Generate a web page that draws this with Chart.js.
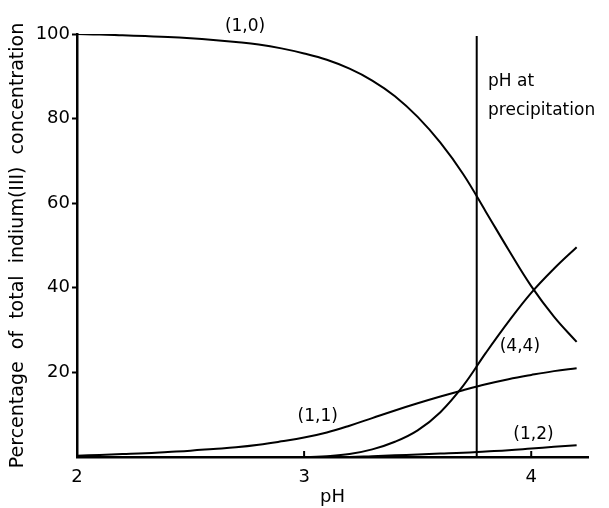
<!DOCTYPE html>
<html>
<head>
<meta charset="utf-8">
<script src="https://cdn.jsdelivr.net/npm/chart.js@4/dist/chart.umd.min.js"></script>
<style>
  html, body { margin: 0; padding: 0; background: #fff; }
  #wrap { width: 609px; height: 508px; }
</style>
</head>
<body>
<div id="wrap"><canvas id="myChart" width="609" height="508"></canvas></div>
<script>
// pH values the curves are read at
var pH = [2.0, 2.1, 2.2, 2.3, 2.4, 2.5, 2.6, 2.7, 2.8, 2.9, 3.0, 3.1,
          3.2, 3.3, 3.4, 3.5, 3.6, 3.7, 3.8, 3.9, 4.0, 4.1, 4.2];

// percentage of total indium(III) for each species
var s10 = [100, 99.9, 99.7, 99.5, 99.3, 99.0, 98.6, 98.1, 97.5, 96.6, 95.4, 93.9,
           91.8, 89.0, 85.3, 80.4, 74.3, 66.9, 58.0, 49.0, 40.4, 33.2, 27.2];
var s11 = [0.3, 0.5, 0.7, 0.9, 1.2, 1.5, 1.9, 2.3, 2.9, 3.7, 4.6, 5.8,
           7.4, 9.2, 11.0, 12.7, 14.3, 15.8, 17.2, 18.4, 19.4, 20.3, 21.0];
var s44 = [0, 0, 0, 0, 0, 0, 0, 0, 0, 0, 0, 0.2,
           0.7, 1.8, 3.6, 6.3, 10.6, 16.8, 24.6, 32.0, 38.8, 44.5, 49.6];
var s12 = [0, 0, 0, 0, 0, 0, 0, 0, 0, 0, 0, 0,
           0, 0.2, 0.4, 0.6, 0.8, 1.0, 1.3, 1.6, 2.0, 2.4, 2.8];

// pH at precipitation (vertical line)
var precipPH = 3.76;
var precipY = [0, 99.5];

var xTicks = [2, 3, 4];
var yTicks = [20, 40, 60, 80, 100];

function pts(ys) {
  var out = [];
  for (var i = 0; i < pH.length; i++) out.push({ x: pH[i], y: ys[i] });
  return out;
}

function curve(label, ys) {
  return {
    label: label,
    data: pts(ys),
    borderColor: '#000',
    borderWidth: 2,
    pointRadius: 0,
    fill: false,
    tension: 0.4
  };
}

var FONT = '"DejaVu Sans", sans-serif';

// text written on the plot, placed in data units
var notes = [
  { text: '(1,0)', x: 2.74, y: 101.7, align: 'center' },
  { text: '(1,1)', x: 3.06, y: 9.5, align: 'center' },
  { text: '(4,4)', x: 3.95, y: 26.2, align: 'center' },
  { text: '(1,2)', x: 4.01, y: 5.4, align: 'center' },
  { text: 'pH at', x: 3.81, y: 88.7, align: 'left' },
  { text: 'precipitation', x: 3.81, y: 82.0, align: 'left' }
];

var extras = {
  id: 'extras',
  afterDatasetsDraw: function(chart) {
    var ctx = chart.ctx;
    var xs = chart.scales.x, ys = chart.scales.y;
    ctx.save();
    // inward ticks on the pH axis
    ctx.strokeStyle = '#000';
    ctx.lineWidth = 2;
    xTicks.forEach(function(v) {
      if (v === xs.min) return;
      var px = xs.getPixelForValue(v);
      ctx.beginPath();
      ctx.moveTo(px, ys.bottom);
      ctx.lineTo(px, ys.bottom - 6);
      ctx.stroke();
    });
    ctx.fillStyle = '#000';
    ctx.font = '17px ' + FONT;
    ctx.textBaseline = 'middle';
    notes.forEach(function(n) {
      ctx.textAlign = n.align;
      ctx.fillText(n.text, xs.getPixelForValue(n.x), ys.getPixelForValue(n.y));
    });
    ctx.restore();
  }
};

var ctx = document.getElementById('myChart').getContext('2d');
var myChart = new Chart(ctx, {
  type: 'line',
  data: {
    datasets: [
      curve('(1,0)', s10),
      curve('(1,1)', s11),
      curve('(4,4)', s44),
      curve('(1,2)', s12),
      {
        label: 'pH at precipitation',
        data: precipY.map(function(y) { return { x: precipPH, y: y }; }),
        borderColor: '#000',
        borderWidth: 2,
        pointRadius: 0,
        fill: false
      }
    ]
  },
  options: {
    responsive: false,
    animation: false,
    layout: { padding: { top: 34, right: 21, left: 0, bottom: 0 } },
    plugins: { legend: { display: false }, tooltip: { enabled: false } },
    scales: {
      x: {
        type: 'linear',
        min: 2,
        max: 4.25,
        afterFit: function(s) { s.height = 51; },
        border: { display: true, color: '#000', width: 2.5 },
        grid: { drawOnChartArea: false, drawTicks: false },
        ticks: {
          stepSize: 1,
          includeBounds: false,
          padding: 10,
          color: '#000',
          font: { family: FONT, size: 18 }
        },
        title: {
          display: true,
          text: 'pH',
          color: '#000',
          padding: { top: 0, bottom: 0 },
          font: { family: FONT, size: 18 }
        }
      },
      y: {
        min: 0,
        max: 100,
        afterFit: function(s) { s.width = 77; },
        border: { display: true, color: '#000', width: 2.5 },
        grid: {
          drawOnChartArea: false,
          tickLength: 5,
          tickWidth: 2,
          tickColor: function(c) { return c.tick && c.tick.value === 0 ? 'rgba(0,0,0,0)' : '#000'; }
        },
        ticks: {
          stepSize: 20,
          padding: 2,
          color: '#000',
          font: { family: FONT, size: 18 },
          callback: function(v) { return yTicks.indexOf(v) >= 0 ? v : ''; }
        },
        title: {
          display: true,
          text: 'Percentage  of  total  indium(III)  concentration',
          color: '#000',
          padding: { top: 7, bottom: 0 },
          font: { family: FONT, size: 19 }
        }
      }
    }
  },
  plugins: [extras]
});
</script>
</body>
</html>
